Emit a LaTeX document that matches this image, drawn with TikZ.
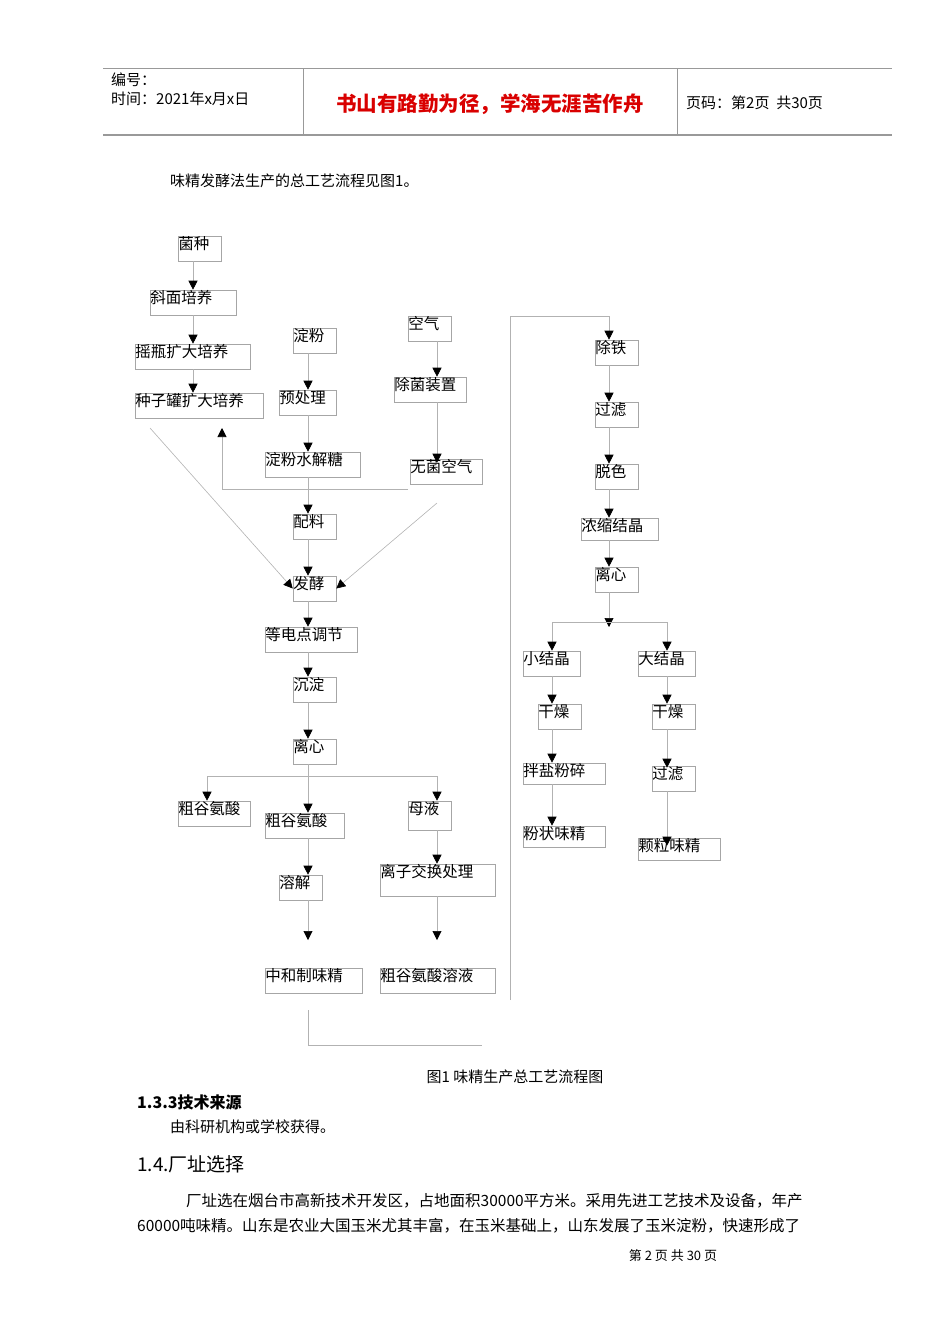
\documentclass[tikz,border=0pt]{standalone}
\usepackage{fontspec}
\setmainfont{Noto Sans CJK SC}
\usetikzlibrary{arrows.meta}
\newcommand{\bx}[6]{%
  \node[box,minimum width={(#4-#2)*1pt},minimum height={(#5-#3)*1pt}] (#1) at ({(#2+#4)/2},{(#3+#5)/2}) {};
  \node[lbl] at (#1.north west) {#6};}
\begin{document}
\begin{tikzpicture}[x=1pt,y=-1pt,
  box/.style={draw=gray!70,line width=0.6pt,inner sep=0pt},
  lbl/.style={anchor=north west,inner sep=0.5pt,font=\fontsize{15.5}{15.5}\selectfont},
  ln/.style={draw=gray!60,line width=0.6pt},
  ar/.style={ln,-{Triangle[width=9pt,length=9pt,color=black,fill=black]}}]
\useasboundingbox (0,0) rectangle (950,1344);
% header
\draw[gray!80,line width=1pt] (103,68) -- (892,68);
\draw[gray!80,line width=1.5pt] (103,135) -- (892,135);
\draw[gray!80] (303,68) -- (303,135) (677,68) -- (677,135);
\node[anchor=west,font=\fontsize{15}{15}\selectfont,inner sep=0] (h1) at (111,80) {编号：};
\node[anchor=west,font=\fontsize{15}{15}\selectfont,inner sep=0] (h2) at (111,99) {时间：2021年x月x日};
\node[font=\fontsize{20.5}{20.5}\selectfont\bfseries,text=red!85!black,inner sep=0] (h3) at (490,104) {书山有路勤为径，学海无涯苦作舟};
\node[anchor=west,font=\fontsize{15}{15}\selectfont,inner sep=0] (h4) at (686,103) {页码：第2页\ \ 共30页};
\node[anchor=west,font=\fontsize{15}{15}\selectfont,inner sep=0] (intro) at (170,181) {味精发酵法生产的总工艺流程见图1。};
% boxes
\bx{a1}{178}{236}{221}{261}{菌种}
\bx{a2}{150}{290}{236}{315}{斜面培养}
\bx{a3}{135}{344}{250}{369}{摇瓶扩大培养}
\bx{a4}{135}{393}{263}{418}{种子罐扩大培养}
\bx{b1}{293}{328}{336}{353}{淀粉}
\bx{b2}{279}{390}{336}{415}{预处理}
\bx{b3}{265}{452}{360}{477}{淀粉水解糖}
\bx{c1}{408}{316}{451}{341}{空气}
\bx{c2}{394}{377}{466}{402}{除菌装置}
\bx{c3}{410}{459}{482}{484}{无菌空气}
\bx{m1}{293}{514}{336}{539}{配料}
\bx{m2}{293}{576}{336}{601}{发酵}
\bx{m3}{265}{627}{357}{652}{等电点调节}
\bx{m4}{293}{677}{336}{702}{沉淀}
\bx{m5}{293}{739}{336}{764}{离心}
\bx{d1}{178}{801}{250}{826}{粗谷氨酸}
\bx{d2}{265}{813}{344}{838}{粗谷氨酸}
\bx{d3}{408}{801}{451}{830}{母液}
\bx{e1}{279}{875}{322}{900}{溶解}
\bx{e2}{380}{864}{495}{896}{离子交换处理}
\bx{f1}{265}{968}{362}{993}{中和制味精}
\bx{f2}{380}{968}{495}{993}{粗谷氨酸溶液}
\bx{r1}{595}{340}{638}{365}{除铁}
\bx{r2}{595}{402}{638}{427}{过滤}
\bx{r3}{595}{464}{638}{489}{脱色}
\bx{r4}{581}{518}{658}{540}{浓缩结晶}
\bx{r5}{595}{567}{638}{592}{离心}
\bx{s1}{523}{651}{580}{676}{小结晶}
\bx{t1}{638}{651}{695}{676}{大结晶}
\bx{s2}{538}{704}{581}{729}{干燥}
\bx{t2}{652}{704}{695}{729}{干燥}
\bx{s3}{523}{763}{605}{784}{拌盐粉碎}
\bx{t3}{652}{766}{695}{791}{过滤}
\bx{s4}{523}{826}{605}{847}{粉状味精}
\bx{t4}{638}{838}{720}{860}{颗粒味精}
% connectors
\draw[ar] (a1.south -| 193,0) -- (a2.north -| 193,0);
\draw[ar] (a2.south -| 193,0) -- (a3.north -| 193,0);
\draw[ar] (a3.south -| 193,0) -- (a4.north -| 193,0);
\draw[ar] (b1.south -| 308,0) -- (b2.north -| 308,0);
\draw[ar] (b2.south -| 308,0) -- (b3.north -| 308,0);
\draw[ar] (b3.south -| 308,0) -- (m1.north -| 308,0);
\draw[ar] (c1.south -| 437,0) -- (c2.north -| 437,0);
\draw[ar] (c2.south -| 437,0) -- ([yshift=-4pt]c3.north -| 437,0);
\draw[ar] (m1.south -| 308,0) -- (m2.north -| 308,0);
\coordinate (p1) at (150,428);
\draw[ar] (p1) -- (m2.west);
\coordinate (p2) at (437,503);
\draw[ar] (p2) -- (m2.east);
\coordinate (p3) at (408,489);
\draw[ar] (p3) -- (222,489) -- (222,428);
\draw[ar] (m2.south -| 308,0) -- (m3.north -| 308,0);
\draw[ar] (m3.south -| 308,0) -- (m4.north -| 308,0);
\draw[ar] (m4.south -| 308,0) -- (m5.north -| 308,0);
\draw[ln] (m5.south -| 308,0) -- (308,776);
\draw[ln] (207,776) -- (437,776);
\draw[ar] (207,776) -- (d1.north -| 207,0);
\draw[ar] (308,776) -- (d2.north -| 308,0);
\draw[ar] (437,776) -- (d3.north -| 437,0);
\draw[ar] (d2.south -| 308,0) -- (e1.north -| 308,0);
\draw[ar] (d3.south -| 437,0) -- (e2.north -| 437,0);
\coordinate (q1) at (308,940);
\coordinate (q2) at (437,940);
\draw[ar] (e1.south -| 308,0) -- (q1);
\draw[ar] (e2.south -| 437,0) -- (q2);
\coordinate (q3) at (308,1010);
\coordinate (q4) at (482,1045);
\draw[ln] (q3) -- (308,1045) -- (q4);
\coordinate (v1) at (510,1000);
\draw[ar] (v1) -- (510,316) -- (609,316) -- (r1.north -| 609,0);
\draw[ar] (r1.south -| 609,0) -- (r2.north -| 609,0);
\draw[ar] (r2.south -| 609,0) -- (r3.north -| 609,0);
\draw[ar] (r3.south -| 609,0) -- (r4.north -| 609,0);
\draw[ar] (r4.south -| 609,0) -- (r5.north -| 609,0);
\draw[ar] (r5.south -| 609,0) -- (609,627);
\draw[ln] (552,622) -- (667,622);
\draw[ar] (552,622) -- (s1.north -| 552,0);
\draw[ar] (667,622) -- (t1.north -| 667,0);
\draw[ar] (s1.south -| 552,0) -- (s2.north -| 552,0);
\draw[ar] (t1.south -| 667,0) -- (t2.north -| 667,0);
\draw[ar] (s2.south -| 552,0) -- (s3.north -| 552,0);
\draw[ar] (t2.south -| 667,0) -- ([yshift=-2pt]t3.north -| 667,0);
\draw[ar] (s3.south -| 552,0) -- (s4.north -| 552,0);
\draw[ar] (t3.south -| 667,0) -- ([yshift=-8pt]t4.north -| 667,0);
% text below
\node[font=\fontsize{15}{15}\selectfont,inner sep=0] (cap) at (515,1077) {图1\ 味精生产总工艺流程图};
\node[anchor=west,font=\fontsize{16}{16}\selectfont\bfseries,inner sep=0] (s133) at (137,1102) {1.3.3技术来源};
\node[anchor=west,font=\fontsize{15}{15}\selectfont,inner sep=0] (src) at (170,1127) {由科研机构或学校获得。};
\node[anchor=west,font=\fontsize{19}{19}\selectfont,inner sep=0] (s14) at (137,1164) {1.4.厂址选择};
\node[anchor=west,font=\fontsize{15.5}{15.5}\selectfont,inner sep=0] (p1t) at (186,1201) {厂址选在烟台市高新技术开发区，占地面积30000平方米。采用先进工艺技术及设备，年产};
\node[anchor=west,font=\fontsize{15.5}{15.5}\selectfont,inner sep=0] (p2t) at (137,1226) {60000吨味精。山东是农业大国玉米尤其丰富，在玉米基础上，山东发展了玉米淀粉，快速形成了};
\node[font=\fontsize{13}{13}\selectfont,inner sep=0] (foot) at (673,1256) {第\ 2\ 页\ 共\ 30\ 页};
\end{tikzpicture}
\end{document}
